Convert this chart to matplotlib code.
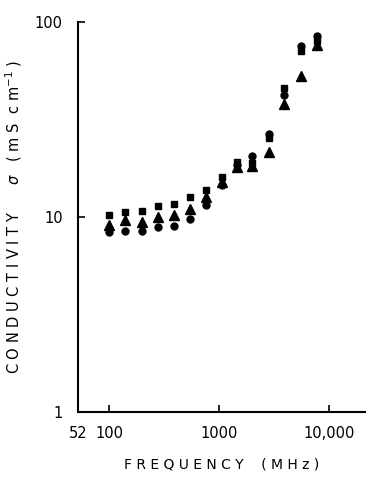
import numpy as np
import matplotlib.pyplot as plt

# frequencies (MHz)
freq = [100, 140, 200, 280, 390, 540, 750, 1050, 1450, 2000, 2850, 3900, 5550, 7800]

# conductivity (mS/cm) for the three symbols
sq = [10.2, 10.6, 10.7, 11.4, 11.6, 12.6, 13.7, 16.1, 19.2, 18.8, 25.3, 46.0, 70.5, 79.6]
tri = [9.1, 9.7, 9.45, 10.05, 10.2, 10.95, 12.7, 15.1, 18.1, 18.3, 21.6, 38.0, 53.0, 76.2]
circ = [8.4, 8.5, 8.45, 8.85, 9.0, 9.8, 11.5, 14.5, 18.5, 20.5, 26.7, 42.0, 74.9, 84.6]

xticks = [52, 100, 1000, 10000]
xticklabels = ["52", "100", "1000", "10,000"]
yticks = [1, 10, 100]
yticklabels = ["1", "10", "100"]

fig = plt.figure(figsize=(3.85, 4.84), dpi=100)
ax = fig.add_axes([0.2026, 0.1488, 0.745, 0.806])

ax.plot(freq, sq, 's', color='black', markersize=5, linestyle='none')
ax.plot(freq, tri, '^', color='black', markersize=7.5, linestyle='none')
ax.plot(freq, circ, 'o', color='black', markersize=5, linestyle='none')

ax.set_xscale('log')
ax.set_yscale('log')
ax.set_xlim(52, 21000)
ax.set_ylim(1, 100)

ax.spines['top'].set_visible(False)
ax.spines['right'].set_visible(False)
ax.spines['left'].set_linewidth(1.5)
ax.spines['bottom'].set_linewidth(1.5)

ax.set_xticks(xticks)
ax.set_xticklabels(xticklabels)
ax.set_yticks(yticks)
ax.set_yticklabels(yticklabels)
ax.minorticks_off()
ax.tick_params(direction='in', length=5, width=1.2, labelsize=10.5)
ax.tick_params(axis='x', pad=10)
ax.tick_params(axis='y', pad=11)

ax.set_xlabel("F R E Q U E N C Y    ( M H z )", fontsize=10, labelpad=12)
ax.set_ylabel(r"C O N D U C T I V I T Y      $\sigma$   ( m S  c m$^{-1}$ )",
              fontsize=10.5, labelpad=8)

fig.savefig("out.png", dpi=100)
